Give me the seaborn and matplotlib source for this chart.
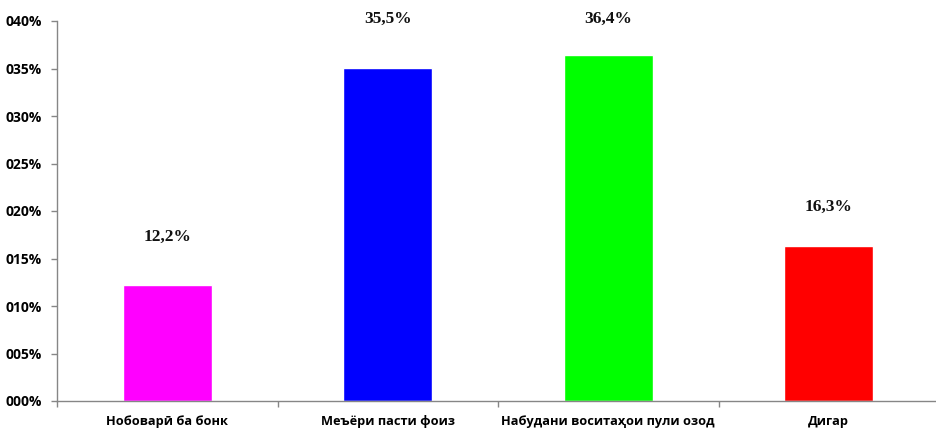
import matplotlib
matplotlib.use("Agg")
import matplotlib.pyplot as plt
import seaborn as sns
import pandas as pd
from matplotlib.ticker import FixedLocator, FuncFormatter

# Data
categories = ["Нобоварӣ ба бонк", "Меъёри пасти фоиз",
              "Набудани воситаҳои пули озод", "Дигар"]
bar_values = [12.2, 35.1, 36.4, 16.3]          # bar heights (percent)
bar_labels = ["12,2%", "35,5%", "36,4%", "16,3%"]
label_y = [17.3, 40.2, 40.2, 20.4]             # where the value labels sit
bar_colors = ["#FF00FF", "#0000FF", "#00FF00", "#FF0000"]
y_ticks = [0, 5, 10, 15, 20, 25, 30, 35, 40]

sns.set_theme(style="white")
plt.rcParams["font.family"] = ["Open Sans", "Noto Sans", "DejaVu Sans"]

df = pd.DataFrame({"category": categories, "value": bar_values})

fig = plt.figure(figsize=(9.36, 4.29), dpi=100)
ax = fig.add_axes([57 / 936, 28 / 429, 882 / 936, 380 / 429])

sns.barplot(data=df, x="category", y="value", hue="category",
            palette=bar_colors, width=0.405, saturation=1, legend=False, ax=ax)

ax.set_xlim(-0.5, 3.5)
ax.set_ylim(0, 40)
ax.set_yticks(y_ticks)
ax.yaxis.set_major_formatter(FuncFormatter(lambda v, p: f"{int(round(v)):03d}%"))

# category boundaries get the tick marks, labels stay centred
ax.xaxis.set_minor_locator(FixedLocator([-0.5, 0.5, 1.5, 2.5, 3.5]))
ax.tick_params(axis="x", which="major", length=0, pad=10, labelsize=9.2)
ax.tick_params(axis="x", which="minor", bottom=True, length=4, width=1, color="#868686")
ax.tick_params(axis="y", left=True, length=4, width=1, color="#868686", pad=7, labelsize=10)
for lab in ax.get_xticklabels() + ax.get_yticklabels():
    lab.set_fontweight("bold")
    lab.set_color("#000000")

ax.set_xlabel("")
ax.set_ylabel("")
for side in ["top", "right"]:
    ax.spines[side].set_visible(False)
for side in ["left", "bottom"]:
    ax.spines[side].set_color("#868686")
    ax.spines[side].set_linewidth(1)

for i, (txt, yy) in enumerate(zip(bar_labels, label_y)):
    ax.text(i, yy, txt, ha="center", va="center", fontsize=12.5,
            fontweight="bold", family=["Liberation Serif", "DejaVu Serif"],
            color="#111111", clip_on=False)

fig.savefig("out.png", dpi=100)
